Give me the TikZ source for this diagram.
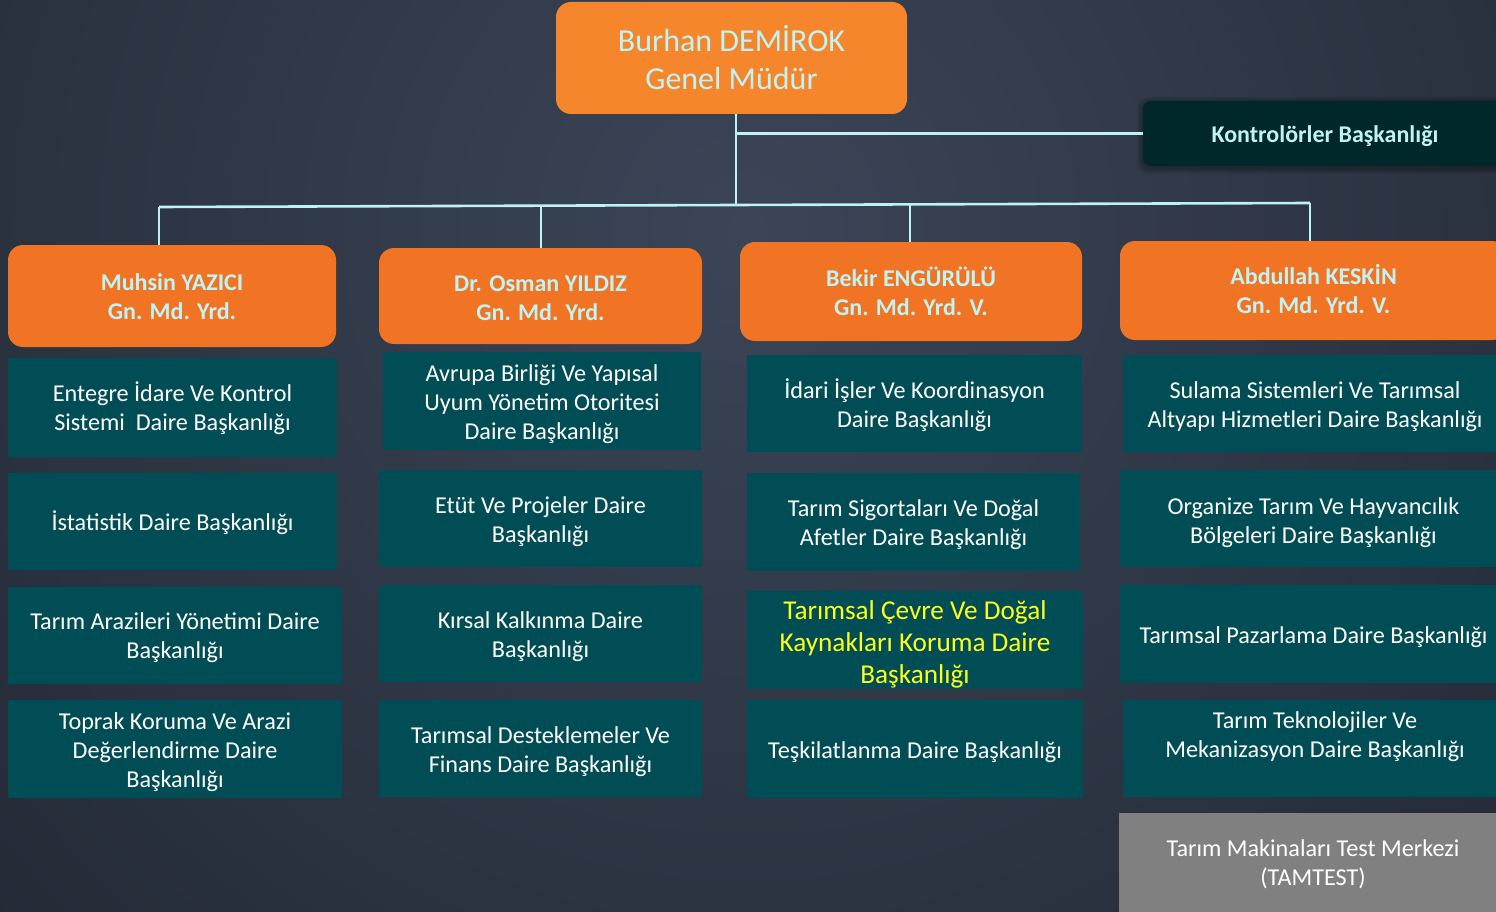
\documentclass[tikz,border=0pt]{standalone}
\usepackage{fontspec}
\setmainfont{Carlito}
\usetikzlibrary{calc}

\definecolor{bgInner}{HTML}{3B4557}
\definecolor{bgOuter}{HTML}{151921}
\definecolor{gmOrange}{HTML}{F5862B}
\definecolor{vpOrange}{HTML}{F07424}
\definecolor{deptTeal}{HTML}{004D55}
\definecolor{ctrlDark}{HTML}{00272A}
\definecolor{paleCyan}{HTML}{C0F4F4}
\definecolor{linkCyan}{HTML}{BDF3F3}
\definecolor{tamGray}{HTML}{808080}
\definecolor{hiYellow}{HTML}{FFFF1A}

\tikzset{
  box/.style={inner sep=0pt, anchor=center},
  gmbox/.style={box, fill=gmOrange, rounded corners=15pt, text=paleCyan,
    font=\fontsize{32}{38}\selectfont},
  vpbox/.style={box, fill=vpOrange, rounded corners=15pt, text=paleCyan,
    font=\bfseries\fontsize{24}{29}\selectfont},
  ctrlbox/.style={box, fill=ctrlDark, rounded corners=8pt, text=paleCyan,
    font=\bfseries\fontsize{24}{28}\selectfont},
  dept/.style={box, fill=deptTeal, text=white,
    font=\fontsize{24.2}{29}\selectfont},
  hidept/.style={dept, text=hiYellow, font=\fontsize{27.2}{32}\selectfont},
  graydept/.style={dept, fill=tamGray},
  link/.style={draw=linkCyan, line width=2.6pt},
}

% a box given by its pixel corners:
% [#1 text lift] #2 style, #3 name, x1,y1,x2,y2, #8 text (lines split by \\)
\newcommand{\orgbox}[8][-4pt]{%
  \node[#2, minimum width={(#6-#4)*1pt}, minimum height={(#7-#5)*1pt}]
    (#3) at ({(#4+#6)/2},{(#5+#7)/2})
    {\raisebox{#1}[\height][\depth]{\begin{tabular}{@{}c@{}}#8\end{tabular}}};}

\begin{document}
\begin{tikzpicture}[x=1pt,y=-1pt]
\useasboundingbox (0,0) rectangle (1496,912);
\begin{scope}
\clip (0,0) rectangle (1496,912);
% dark backdrop, lighter towards the upper middle
\fill[bgOuter] (0,0) rectangle (1496,912);
\shade[inner color=bgInner, outer color=bgOuter]
  (748-1700,230-1700) rectangle (748+1700,230+1700);

% directorate and inspection board
\orgbox[-5pt]{gmbox}{gm}{556}{2}{907}{114}{Burhan DEMİROK\\Genel Müdür}
% soft shadow under the inspection board
\foreach \s in {1,2,...,6}
  \fill[black, opacity=0.05, rounded corners=10pt]
    (1143-\s,101-\s+2) rectangle (1510,166+\s+2);
\orgbox[-3pt]{ctrlbox}{kb}{1143}{101}{1507}{166}{Kontrolörler Başkanlığı}

% deputy directors
\orgbox[-3pt]{vpbox}{v1}{8}{245}{336}{347}{Muhsin YAZICI\\Gn. Md. Yrd.}
\orgbox{vpbox}{v2}{379}{248}{702}{344}{Dr. Osman YILDIZ\\Gn. Md. Yrd.}
\orgbox{vpbox}{v3}{740}{242}{1082}{341}{Bekir ENGÜRÜLÜ\\Gn. Md. Yrd. V.}
\orgbox[-3pt]{vpbox}{v4}{1120}{241}{1507}{340}{Abdullah KESKİN\\Gn. Md. Yrd. V.}

% departments, first column
\orgbox[-3pt]{dept}{a1}{8}{358}{337}{457}{Entegre İdare Ve Kontrol\\Sistemi\ \ Daire Başkanlığı}
\orgbox[-3pt]{dept}{a2}{8}{473}{337}{570}{İstatistik Daire Başkanlığı}
\orgbox[-3pt]{dept}{a3}{8}{587}{342}{684}{Tarım Arazileri Yönetimi Daire\\Başkanlığı}
\orgbox{dept}{a4}{8}{700}{342}{798}{Toprak Koruma Ve Arazi\\Değerlendirme Daire\\Başkanlığı}

% second column
\orgbox{dept}{b1}{383}{352}{701}{450}{Avrupa Birliği Ve Yapısal\\Uyum Yönetim Otoritesi\\Daire Başkanlığı}
\orgbox{dept}{b2}{379}{470}{702}{567}{Etüt Ve Projeler Daire\\Başkanlığı}
\orgbox{dept}{b3}{379}{585}{702}{682}{Kırsal Kalkınma Daire\\Başkanlığı}
\orgbox{dept}{b4}{379}{700}{702}{797}{Tarımsal Desteklemeler Ve\\Finans Daire Başkanlığı}

% third column
\orgbox{dept}{c1}{747}{355}{1082}{452}{İdari İşler Ve Koordinasyon\\Daire Başkanlığı}
\orgbox[-3pt]{dept}{c2}{747}{473}{1080}{571}{Tarım Sigortaları Ve Doğal\\Afetler Daire Başkanlığı}
\orgbox[-5pt]{hidept}{c3}{747}{591}{1083}{689}{Tarımsal Çevre Ve Doğal\\Kaynakları Koruma Daire\\Başkanlığı}
\orgbox{dept}{c4}{747}{700}{1083}{798}{Teşkilatlanma Daire Başkanlığı}

% fourth column
\orgbox{dept}{d1}{1123}{355}{1507}{452}{Sulama Sistemleri Ve Tarımsal\\Altyapı Hizmetleri Daire Başkanlığı}
\orgbox[-5pt]{dept}{d2}{1120}{470}{1507}{567}{Organize Tarım Ve Hayvancılık\\Bölgeleri Daire Başkanlığı}
\orgbox{dept}{d3}{1120}{585}{1507}{683}{Tarımsal Pazarlama Daire Başkanlığı}
\orgbox[11pt]{dept}{d4}{1123}{700}{1507}{797}{Tarım Teknolojiler Ve\\Mekanizasyon Daire Başkanlığı}
\orgbox[-3pt]{graydept}{d5}{1119}{813}{1507}{912}{Tarım Makinaları Test Merkezi\\(TAMTEST)}

% connectors
\coordinate (hub) at (736,206);
\coordinate (t1) at (159,207);
\coordinate (t2) at (541,206);
\coordinate (t3) at (910,204.5);
\coordinate (t4) at (1310,203);
\draw[link] (gm.south -| hub) -- (hub);
\draw[link] (hub |- kb.west) -- (kb.west);
\draw[link] (t1) -- (t4);
\draw[link] (t1) -- (t1 |- v1.north);
\draw[link] (t2) -- (t2 |- v2.north);
\draw[link] (t3) -- (t3 |- v3.north);
\draw[link] (t4) -- (t4 |- v4.north);
\end{scope}
\end{tikzpicture}
\end{document}
